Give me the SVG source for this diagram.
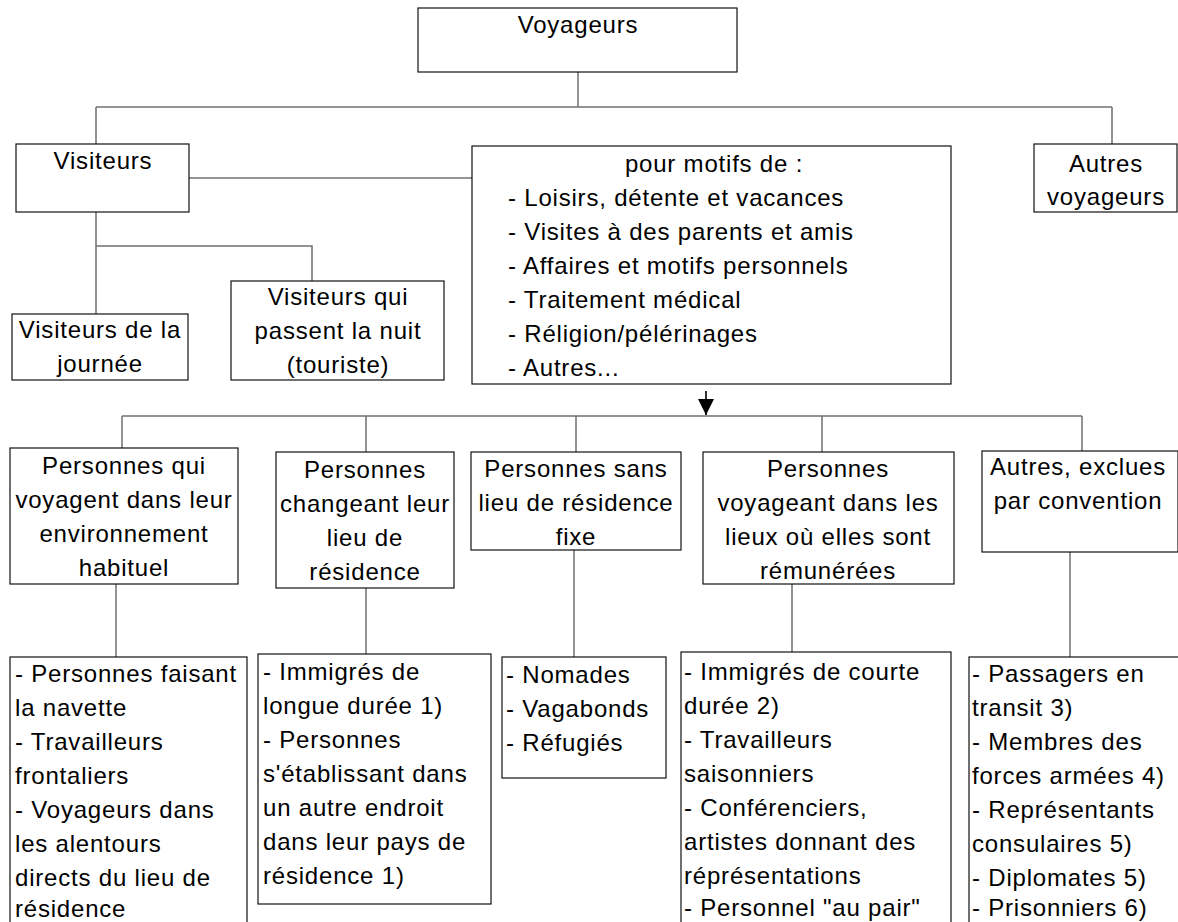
<svg xmlns="http://www.w3.org/2000/svg" width="1178" height="922" viewBox="0 0 1178 922">
<style>
.box{fill:#fff;stroke:#111;stroke-width:1.2}
.conn{stroke:#707070;stroke-width:1.5;fill:none}
text{font-family:"Liberation Sans",Arial,sans-serif;font-size:24px;letter-spacing:0.8px;fill:#000}
.c{text-anchor:middle}
</style>
<defs>
<marker id="arr" markerUnits="userSpaceOnUse" markerWidth="16" markerHeight="16" refX="10" refY="5" viewBox="0 0 10 10" orient="auto">
<path d="M0,0 L10,5 L0,10 z" fill="#000"/>
</marker>
</defs>
<rect width="1178" height="922" fill="#fff"/>
<g id="connectors">
<path class="conn" d="M578,72 V107 M96,107 H1112 M96,107 V144 M1112,107 V144"/>
<path class="conn" d="M189,178 H472"/>
<path class="conn" d="M96,212 V314 M96,246 H312 V281"/>
<line x1="706" y1="391" x2="706" y2="415" stroke="#000" stroke-width="1.6" marker-end="url(#arr)"/>
<path class="conn" d="M122,416 H1082 M122,416 V448 M366,416 V452 M576,416 V452 M822,416 V452 M1082,416 V451"/>
<path class="conn" d="M116,584 V657 M366,588 V654 M574,550 V657 M792,584 V652 M1070,552 V657"/>
</g>
<g id="voyageurs">
<rect class="box" x="418" y="8" width="319" height="64"/>
<text class="c" x="578" y="33">Voyageurs</text>
</g>
<g id="visiteurs">
<rect class="box" x="16" y="144" width="173" height="68"/>
<text class="c" x="103" y="169">Visiteurs</text>
</g>
<g id="motifs">
<rect class="box" x="472" y="146" width="479" height="238"/>
<text class="c" x="714" y="172">pour motifs de :</text>
<text x="508" y="206">- Loisirs, détente et vacances</text>
<text x="508" y="240">- Visites à des parents et amis</text>
<text x="508" y="274">- Affaires et motifs personnels</text>
<text x="508" y="308">- Traitement médical</text>
<text x="508" y="342">- Réligion/pélérinages</text>
<text x="508" y="376">- Autres...</text>
</g>
<g id="autres-voyageurs">
<rect class="box" x="1034" y="144" width="143" height="68"/>
<text class="c" x="1106" y="172">Autres</text>
<text class="c" x="1106" y="205">voyageurs</text>
</g>
<g id="visiteurs-journee">
<rect class="box" x="12" y="314" width="176" height="66"/>
<text class="c" x="100" y="338">Visiteurs de la</text>
<text class="c" x="100" y="372">journée</text>
</g>
<g id="visiteurs-nuit">
<rect class="box" x="231" y="281" width="213" height="99"/>
<text class="c" x="338" y="305">Visiteurs qui</text>
<text class="c" x="338" y="339">passent la nuit</text>
<text class="c" x="338" y="373">(touriste)</text>
</g>
<g id="habituel">
<rect class="box" x="10" y="448" width="228" height="136"/>
<text class="c" x="124" y="474">Personnes qui</text>
<text class="c" x="124" y="508">voyagent dans leur</text>
<text class="c" x="124" y="542">environnement</text>
<text class="c" x="124" y="576">habituel</text>
</g>
<g id="changeant">
<rect class="box" x="276" y="452" width="178" height="136"/>
<text class="c" x="365" y="478">Personnes</text>
<text class="c" x="365" y="512">changeant leur</text>
<text class="c" x="365" y="546">lieu de</text>
<text class="c" x="365" y="580">résidence</text>
</g>
<g id="sans-lieu">
<rect class="box" x="471" y="452" width="210" height="98"/>
<text class="c" x="576" y="477">Personnes sans</text>
<text class="c" x="576" y="511">lieu de résidence</text>
<text class="c" x="576" y="545">fixe</text>
</g>
<g id="remunerees">
<rect class="box" x="703" y="452" width="251" height="132"/>
<text class="c" x="828" y="477">Personnes</text>
<text class="c" x="828" y="511">voyageant dans les</text>
<text class="c" x="828" y="545">lieux où elles sont</text>
<text class="c" x="828" y="579">rémunérées</text>
</g>
<g id="exclues">
<rect class="box" x="982" y="451" width="196" height="101"/>
<text class="c" x="1078" y="475">Autres, exclues</text>
<text class="c" x="1078" y="509">par convention</text>
</g>
<g id="liste-habituel">
<rect class="box" x="10" y="657" width="237" height="280"/>
<text x="15" y="682">- Personnes faisant</text>
<text x="15" y="716">la navette</text>
<text x="15" y="750">- Travailleurs</text>
<text x="15" y="784">frontaliers</text>
<text x="15" y="818">- Voyageurs dans</text>
<text x="15" y="852">les alentours</text>
<text x="15" y="886">directs du lieu de</text>
<text x="15" y="917">résidence</text>
</g>
<g id="liste-changeant">
<rect class="box" x="258" y="654" width="233" height="250"/>
<text x="263" y="680">- Immigrés de</text>
<text x="263" y="714">longue durée 1)</text>
<text x="263" y="748">- Personnes</text>
<text x="263" y="782">s'établissant dans</text>
<text x="263" y="816">un autre endroit</text>
<text x="263" y="850">dans leur pays de</text>
<text x="263" y="884">résidence 1)</text>
</g>
<g id="liste-sans-lieu">
<rect class="box" x="502" y="657" width="164" height="121"/>
<text x="506" y="683">- Nomades</text>
<text x="506" y="717">- Vagabonds</text>
<text x="506" y="751">- Réfugiés</text>
</g>
<g id="liste-remunerees">
<rect class="box" x="681" y="652" width="270" height="285"/>
<text x="684" y="680">- Immigrés de courte</text>
<text x="684" y="714">durée 2)</text>
<text x="684" y="748">- Travailleurs</text>
<text x="684" y="782">saisonniers</text>
<text x="684" y="816">- Conférenciers,</text>
<text x="684" y="850">artistes donnant des</text>
<text x="684" y="884">réprésentations</text>
<text x="684" y="916">- Personnel "au pair"</text>
</g>
<g id="liste-exclues">
<rect class="box" x="969" y="657" width="215" height="280"/>
<text x="972" y="682">- Passagers en</text>
<text x="972" y="716">transit 3)</text>
<text x="972" y="750">- Membres des</text>
<text x="972" y="784">forces armées 4)</text>
<text x="972" y="818">- Représentants</text>
<text x="972" y="852">consulaires 5)</text>
<text x="972" y="886">- Diplomates 5)</text>
<text x="972" y="916">- Prisonniers 6)</text>
</g>
</svg>
